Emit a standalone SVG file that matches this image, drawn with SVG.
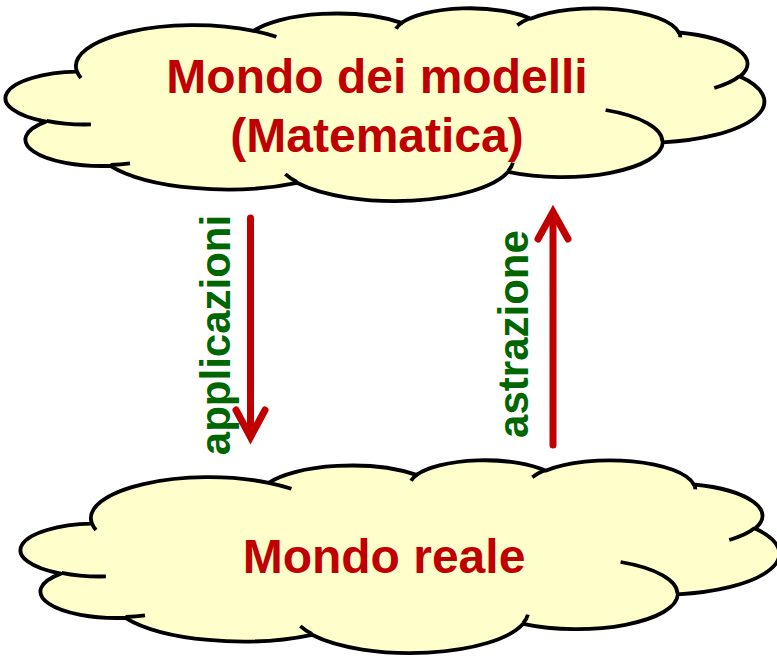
<svg xmlns="http://www.w3.org/2000/svg" xmlns:xlink="http://www.w3.org/1999/xlink" width="777" height="657" viewBox="0 0 777 657">
  <style>
    .cloud { fill: #FFFFCC; stroke: #000000; stroke-width: 3.8; stroke-linejoin: round; }
    .cloud-inner { fill: none; stroke: #000000; stroke-width: 3.8; }
    .title { font-family: "Liberation Sans", Arial, sans-serif; font-weight: bold; font-size: 48px; fill: #C00000; text-anchor: middle; }
    .label { font-family: "Liberation Sans", Arial, sans-serif; font-weight: bold; font-size: 42px; fill: #006600; text-anchor: middle; }
    .arrow { fill: none; stroke: #C00000; stroke-width: 7; stroke-linecap: round; stroke-linejoin: miter; }
  </style>
  <defs>
    <g id="cloudShape">
      <path class="cloud" d="M77.0,71.7 A118.07,41.00 0 0 1 253.7,30.8 A93.24,32.42 0 0 1 401.5,22.9 A76.32,26.52 0 0 1 530.5,18.7 A84.92,29.42 0 0 1 678.8,32.5 A93.24,32.45 0 0 1 740.0,76.6 A118.45,41.13 0 0 1 662.8,142.3 A101.14,35.09 0 0 1 508.1,171.8 A118.05,41.11 0 0 1 297.0,182.8 A134.98,47.03 0 0 1 110.3,165.8 A76.23,26.40 0 0 1 45.8,121.6 A75.97,26.52 0 0 1 77.0,71.7 Z"/>
      <path class="cloud-inner" d="M90.9,124.4 A75.97,26.52 0 0 1 46.6,120.8 M130.0,163.3 A76.23,26.40 0 0 1 110.6,165.0 M297.0,182.0 A118.05,41.11 0 0 1 285.3,174.2 M512.9,162.6 A118.05,41.11 0 0 1 508.2,171.1 M605.6,110.0 A101.14,35.09 0 0 1 662.4,141.8 M739.7,76.1 A93.24,32.45 0 0 1 714.3,88.0 M678.9,31.8 A84.92,29.42 0 0 1 680.3,37.4 M517.3,25.2 A84.92,29.42 0 0 1 530.2,18.0 M396.0,28.7 A76.32,26.52 0 0 1 402.2,22.5 M253.6,30.8 A118.07,41.00 0 0 1 276.4,36.8 M81.0,78.0 A118.07,41.00 0 0 1 77.1,71.7"/>
    </g>
  </defs>

  <g id="node-modelli">
    <use href="#cloudShape" xlink:href="#cloudShape"/>
    <text class="title" x="377" y="93">Mondo dei modelli</text>
    <text class="title" x="377" y="152">(Matematica)</text>
  </g>

  <g id="node-reale">
    <use href="#cloudShape" xlink:href="#cloudShape" transform="translate(15,452)"/>
    <text class="title" x="384" y="573">Mondo reale</text>
  </g>

  <g id="connectors">
    <g id="edge-applicazioni">
      <path class="arrow" d="M250.5,218 V436"/>
      <path class="arrow" d="M236,410 L250.5,437 L265,410"/>
      <text class="label" transform="translate(230,335) rotate(-90)" x="0" y="0">applicazioni</text>
    </g>
    <g id="edge-astrazione">
      <path class="arrow" d="M553,445 V214"/>
      <path class="arrow" d="M538,239 L553,212 L568,239"/>
      <text class="label" transform="translate(528,334) rotate(-90)" x="0" y="0">astrazione</text>
    </g>
  </g>
</svg>
